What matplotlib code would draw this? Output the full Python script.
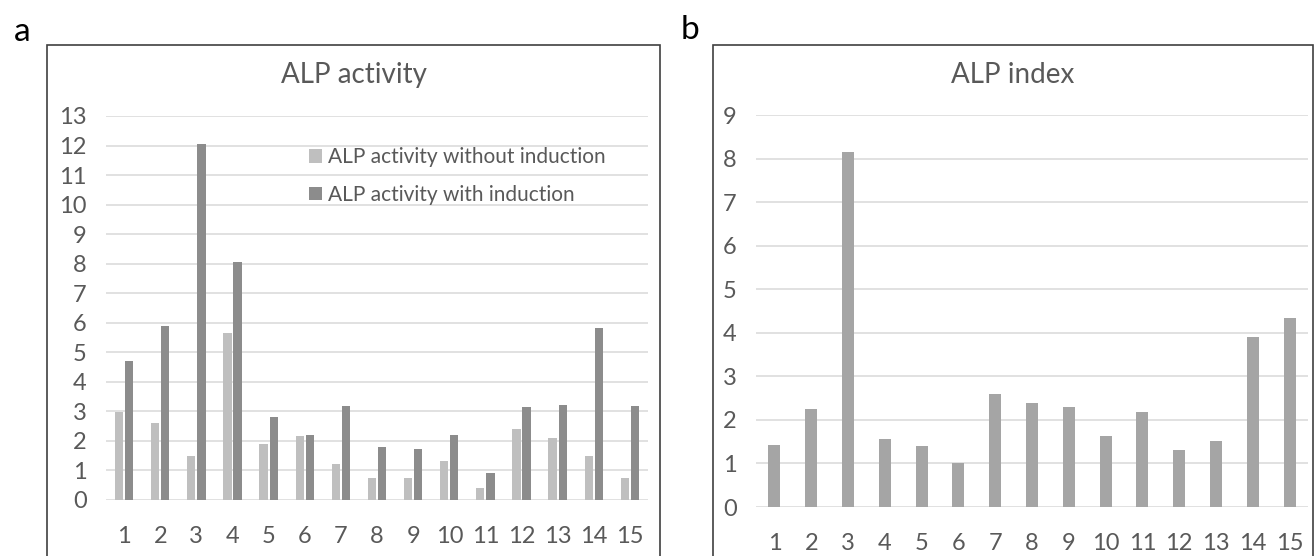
import numpy as np
import matplotlib
matplotlib.use("Agg")
import matplotlib.pyplot as plt
from matplotlib.patches import Rectangle

plt.rcParams['font.family'] = ['Lato', 'DejaVu Sans']

samples = [str(i) for i in range(1, 16)]
alp_without = [2.97, 2.61, 1.48, 5.65, 1.91, 2.16, 1.23, 0.74, 0.74, 1.33, 0.42, 2.39, 2.11, 1.48, 0.73]
alp_with = [4.69, 5.90, 12.05, 8.05, 2.82, 2.20, 3.19, 1.80, 1.72, 2.20, 0.93, 3.14, 3.20, 5.82, 3.19]
alp_index = [1.42, 2.26, 8.14, 1.56, 1.39, 1.02, 2.59, 2.39, 2.30, 1.64, 2.19, 1.31, 1.51, 3.91, 4.34]

TXT = "#595959"
GRID = "#d9d9d9"

fig = plt.figure(figsize=(13.16, 5.56), dpi=100)

# chart borders (run off the bottom edge like the original), titles centred on them
for x0, x1, title in ((47, 660, "ALP activity"), (713, 1313, "ALP index")):
    fig.patches.append(Rectangle((x0 / 1316, -0.2), (x1 - x0) / 1316, 1.2 - 45 / 556,
                                 transform=fig.transFigure, fill=False,
                                 ec="#404040", lw=1.2, clip_on=False))
    fig.text((x0 + x1) / 2 / 1316, 1 - 75 / 556, title, fontsize=20, color=TXT,
             ha="center", va="center")
fig.text(14 / 1316, 1 - 32 / 556, "a", fontsize=24, va="center", ha="left", color="black")
fig.text(681 / 1316, 1 - 30 / 556, "b", fontsize=24, va="center", ha="left", color="black")


def style(ax, ymax):
    ax.set_ylim(0, ymax)
    ax.set_xlim(0.5, 15.5)
    ax.set_yticks(range(ymax + 1))
    ax.set_xticks(range(1, 16))
    ax.set_xticklabels(samples)
    ax.grid(axis="y", color=GRID, lw=1.1)
    ax.set_axisbelow(True)
    for s in ax.spines.values():
        s.set_visible(False)
    ax.tick_params(length=0, colors=TXT, labelsize=17)
    ax.tick_params(axis="y", pad=14)
    ax.tick_params(axis="x", pad=19)


x = np.arange(1, 16)

ax1 = fig.add_axes([106 / 1316, 1 - 500 / 556, 542 / 1316, 384 / 556])
ax1.bar(x - 0.14, alp_without, width=0.23, color="#bfbfbf", label="ALP activity without induction")
ax1.bar(x + 0.14, alp_with, width=0.23, color="#8c8c8c", label="ALP activity with induction")
style(ax1, 13)
ax1.legend(loc="upper left", bbox_to_anchor=(0.36, 0.94), frameon=False, fontsize=15,
           labelcolor=TXT, handlelength=0.6, handleheight=0.6, handletextpad=0.3,
           labelspacing=0.85, borderaxespad=0)

ax2 = fig.add_axes([756 / 1316, 1 - 507 / 556, 552 / 1316, 392 / 556])
ax2.bar(x, alp_index, width=0.33, color="#a5a5a5")
style(ax2, 9)

fig.savefig("out.png", dpi=100)
